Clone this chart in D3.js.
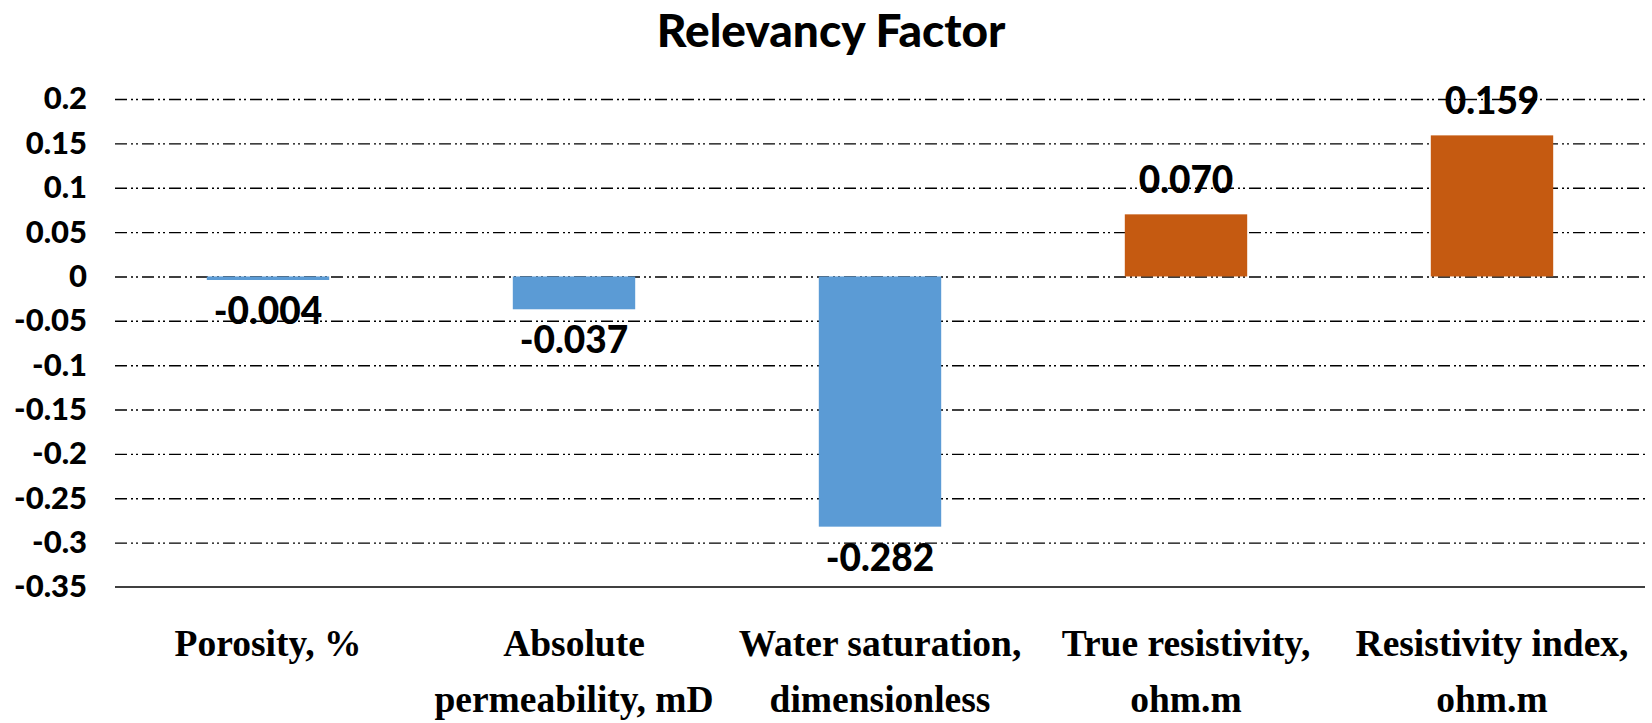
<!DOCTYPE html>
<html>
<head>
<meta charset="utf-8">
<script src="https://cdn.jsdelivr.net/npm/d3@7"></script>
<style>
    body { margin: 0; background: #fff; }
    #chart svg { display: block; }
    .grid line { stroke: #000; stroke-width: 1.4; stroke-dasharray: 12,4,2,3,2,4; }
    .grid path { display: none; }
    .axis.y path, .axis.y line { display: none; }
    .axis.y text { font-family: Lato, sans-serif; font-weight: 900; font-size: 31px; fill: #000; }
    .cat { font-family: "Liberation Serif", "Times New Roman", serif; font-weight: bold; font-size: 37.5px; fill: #000; }
    .val { font-family: Lato, sans-serif; font-weight: 900; font-size: 37px; fill: #000; }
    .title { font-family: Lato, sans-serif; font-weight: 900; font-size: 46px; fill: #000; }
</style>
</head>
<body>
<div id="chart"></div>
<script>
var categories = ["Porosity, %", "Absolute permeability, mD", "Water saturation, dimensionless",
    "True resistivity, ohm.m", "Resistivity index, ohm.m"];
var categoryLines = [
    ["Porosity, %"],
    ["Absolute", "permeability, mD"],
    ["Water saturation,", "dimensionless"],
    ["True resistivity,", "ohm.m"],
    ["Resistivity index,", "ohm.m"]
];
var values = [-0.004, -0.037, -0.282, 0.070, 0.159];
var tickValues = [0.2, 0.15, 0.1, 0.05, 0, -0.05, -0.1, -0.15, -0.2, -0.25, -0.3, -0.35];
var tickLabels = ["0.2", "0.15", "0.1", "0.05", "0", "-0.05", "-0.1", "-0.15", "-0.2", "-0.25", "-0.3", "-0.35"];

var width = 1652,
    height = 723,
    margin = { top: 99, right: 7, bottom: 136, left: 115 };

var innerW = width - margin.left - margin.right,
    innerH = height - margin.top - margin.bottom;

var x = d3.scaleBand()
    .domain(categories)
    .range([0, innerW])
    .paddingInner(0.6)
    .paddingOuter(0.3);

var y = d3.scaleLinear()
    .domain([-0.35, 0.2])
    .range([innerH, 0]);

// plain hyphen for negatives, like the original
var fmt = d3.formatLocale({ decimal: ".", thousands: ",", grouping: [3], currency: ["", ""], minus: "-" }).format(".3f");

var svg = d3.select("#chart").append("svg")
    .attr("width", width)
    .attr("height", height);

svg.append("text")
    .attr("class", "title")
    .attr("x", 831)
    .attr("y", 47)
    .attr("text-anchor", "middle")
    .text("Relevancy Factor");

var g = svg.append("g")
    .attr("transform", "translate(" + margin.left + "," + margin.top + ")");

// dash-dot-dot gridlines (all but the bottom one)
g.append("g")
    .attr("class", "grid")
    .call(d3.axisLeft(y)
        .tickValues(tickValues.filter(function (d) { return d > -0.35; }))
        .tickSize(-innerW)
        .tickFormat(""));

// y labels
var labelOf = {};
tickValues.forEach(function (v, i) { labelOf[v] = tickLabels[i]; });
g.append("g")
    .attr("class", "axis y")
    .attr("transform", "translate(-28,0)")
    .call(d3.axisLeft(y)
        .tickValues(tickValues)
        .tickSize(0)
        .tickPadding(0)
        .tickFormat(function (d) { return labelOf[d]; }));

// bars
g.selectAll("rect.bar")
    .data(values)
    .enter().append("rect")
    .attr("class", "bar")
    .attr("x", function (d, i) { return x(categories[i]); })
    .attr("width", x.bandwidth())
    .attr("y", function (d) { return y(Math.max(0, d)); })
    .attr("height", function (d) { return Math.abs(y(d) - y(0)); })
    .attr("fill", function (d) { return d < 0 ? "#5B9BD5" : "#C55A11"; });

// bottom axis line
g.append("line")
    .attr("x1", 0)
    .attr("x2", innerW)
    .attr("y1", y(-0.35))
    .attr("y2", y(-0.35))
    .attr("stroke", "#404040")
    .attr("stroke-width", 2.2);

// value labels
g.selectAll("text.val")
    .data(values)
    .enter().append("text")
    .attr("class", "val")
    .attr("text-anchor", "middle")
    .attr("x", function (d, i) { return x(categories[i]) + x.bandwidth() / 2; })
    .attr("y", function (d) { return d < 0 ? y(d) + 44 : y(d) - 21; })
    .text(function (d) { return fmt(d); });

// category labels
var cat = g.selectAll("text.cat")
    .data(categoryLines)
    .enter().append("text")
    .attr("class", "cat")
    .attr("text-anchor", "middle")
    .attr("transform", function (d, i) {
        return "translate(" + (x(categories[i]) + x.bandwidth() / 2) + "," + (innerH + 69) + ")";
    });
cat.selectAll("tspan")
    .data(function (d) { return d; })
    .enter().append("tspan")
    .attr("x", 0)
    .attr("dy", function (d, i) { return i === 0 ? 0 : 56; })
    .text(function (d) { return d; });
</script>
</body>
</html>
